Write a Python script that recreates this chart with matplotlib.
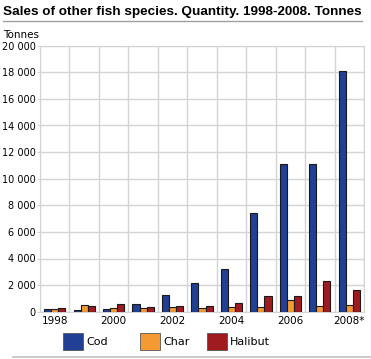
import numpy as np
import matplotlib
matplotlib.use('Agg')
import matplotlib.pyplot as plt
from matplotlib.ticker import FuncFormatter, MultipleLocator
from matplotlib.patches import Rectangle
from matplotlib.lines import Line2D

years = ['1998', '1999', '2000', '2001', '2002', '2003', '2004', '2005', '2006', '2007', '2008*']
cod = [200, 150, 200, 575, 1250, 2175, 3175, 7425, 11100, 11100, 18100]
char = [200, 500, 275, 300, 325, 275, 325, 350, 900, 400, 475]
halibut = [300, 450, 575, 375, 425, 425, 625, 1175, 1150, 2300, 1600]

series = [('Cod', cod, '#213f94'), ('Char', char, '#f59a32'), ('Halibut', halibut, '#a01b1f')]

fig = plt.figure(figsize=(3.71, 3.59), dpi=100)
ax = fig.add_axes([40 / 371, 1 - 311.7 / 359, 324 / 371, 266 / 359])

x = np.arange(len(years))
w = 0.24
for i, (name, vals, col) in enumerate(series):
    ax.bar(x + (i - 1) * w, vals, width=w, color=col, edgecolor='#1a1a1a', linewidth=0.8, zorder=3)

ax.set_xlim(-0.5, len(years) - 0.5)
ax.set_ylim(0, 20000)
ax.yaxis.set_major_locator(MultipleLocator(2000))
ax.yaxis.set_major_formatter(FuncFormatter(lambda v, p: f'{int(v):,}'.replace(',', ' ')))
ax.set_xticks(x[::2])
ax.set_xticklabels(years[::2])
ax.set_xticks(np.arange(-0.5, len(years)), minor=True)
ax.grid(True, which='minor', axis='x', color='#d4d4d4', linewidth=1, zorder=0)
ax.grid(True, which='major', axis='y', color='#d4d4d4', linewidth=1, zorder=0)
ax.tick_params(axis='x', which='both', length=0, labelsize=7.5, pad=3)
ax.tick_params(axis='y', length=2, color='#d4d4d4', labelsize=7, pad=1)
for s in ax.spines.values():
    s.set_color('#d4d4d4')

fig.text(3 / 371, 1 - 12 / 359, 'Sales of other fish species. Quantity. 1998-2008. Tonnes',
         fontsize=9.7, fontweight='bold', family='Liberation Sans', va='center', ha='left')
fig.add_artist(Line2D([3 / 371, 362 / 371], [1 - 21 / 359] * 2, color='#a0a0a0', linewidth=1))
fig.text(3 / 371, 1 - 35 / 359, 'Tonnes', fontsize=7.5, va='center', ha='left')
fig.add_artist(Line2D([13 / 371, 370 / 371], [1 - 356.5 / 359] * 2, color='#c0c0c0', linewidth=1.2))

# legend
lx = [63, 140, 207]
for (name, vals, col), x0 in zip(series, lx):
    fig.add_artist(Rectangle((x0 / 371, 1 - 350 / 359), 20 / 371, 17 / 359,
                             facecolor=col, edgecolor='#555555', linewidth=0.6,
                             transform=fig.transFigure))
    fig.text((x0 + 23) / 371, 1 - 342 / 359, name, fontsize=8, va='center', ha='left')

fig.savefig('out.png', dpi=100)
